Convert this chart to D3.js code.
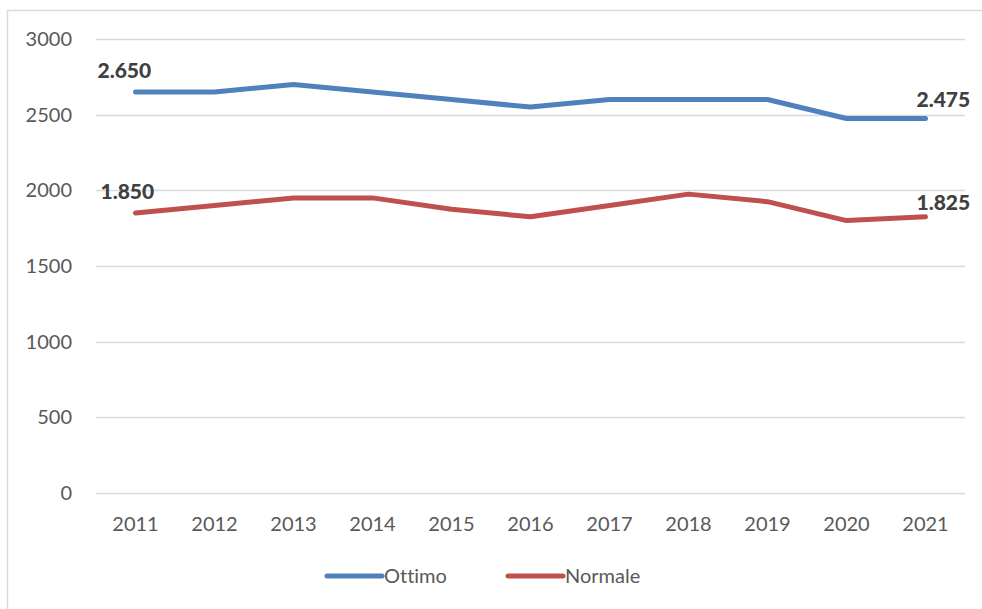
<!DOCTYPE html>
<html>
<head>
<meta charset="utf-8">
<script src="https://cdn.jsdelivr.net/npm/d3@7"></script>
<style>
  body { margin: 0; background: #fff; }
  text { font-family: Lato, "Open Sans", sans-serif; font-variant-ligatures: none; }
</style>
</head>
<body>
<div id="chart"></div>
<script>
var years = ["2011","2012","2013","2014","2015","2016","2017","2018","2019","2020","2021"];
var ottimo = [2650, 2650, 2700, 2650, 2600, 2550, 2600, 2600, 2600, 2475, 2475];
var normale = [1850, 1900, 1950, 1950, 1875, 1825, 1900, 1975, 1925, 1800, 1825];
var yTicks = [0, 500, 1000, 1500, 2000, 2500, 3000];
var seriesNames = ["Ottimo", "Normale"];
var colors = ["#4f81bd", "#c0504d"];

var W = 982, H = 609;
var plotLeft = 96, plotRight = 965, plotTop = 39, plotBottom = 493;

var svg = d3.select("#chart").append("svg").attr("width", W).attr("height", H);

// chart frame
svg.append("rect")
  .attr("x", 7.5).attr("y", 10.5).attr("width", W).attr("height", H)
  .attr("fill", "none").attr("stroke", "#d9d9d9").attr("stroke-width", 1.5);

var x = d3.scaleBand().domain(years).range([plotLeft, plotRight]);
var y = d3.scaleLinear().domain([0, 3000]).range([plotBottom, plotTop]);

// gridlines
svg.append("g").selectAll("line").data(yTicks).enter().append("line")
  .attr("x1", plotLeft).attr("x2", plotRight)
  .attr("y1", d => Math.round(y(d)) + 0.5).attr("y2", d => Math.round(y(d)) + 0.5)
  .attr("stroke", "#d9d9d9").attr("stroke-width", 1.5);

// y labels
svg.append("g").selectAll("text").data(yTicks).enter().append("text")
  .attr("x", 72).attr("y", d => y(d)).attr("dy", "0.35em")
  .attr("text-anchor", "end").attr("font-size", 20).attr("fill", "#595959")
  .text(d => d);

// x labels
svg.append("g").selectAll("text").data(years).enter().append("text")
  .attr("x", d => x(d) + x.bandwidth() / 2).attr("y", 524).attr("dy", "0.35em")
  .attr("text-anchor", "middle").attr("font-size", 20).attr("fill", "#595959")
  .text(d => d);

var line = d3.line()
  .x((d, i) => x(years[i]) + x.bandwidth() / 2)
  .y(d => y(d));

[ottimo, normale].forEach(function (vals, k) {
  svg.append("path").datum(vals)
    .attr("d", line)
    .attr("fill", "none")
    .attr("stroke", colors[k])
    .attr("stroke-width", 5)
    .attr("stroke-linejoin", "round")
    .attr("stroke-linecap", "round");
});

// data labels (first and last points)
var fmt = d => d3.format(",")(d).replace(",", ".");
var labels = [
  { v: ottimo[0], i: 0, dx: -38, dy: -21 },
  { v: normale[0], i: 0, dx: -35, dy: -21 },
  { v: ottimo[10], i: 10, dx: -9, dy: -19 },
  { v: normale[10], i: 10, dx: -9, dy: -14 }
];
svg.append("g").selectAll("text").data(labels).enter().append("text")
  .attr("x", d => x(years[d.i]) + x.bandwidth() / 2 + d.dx)
  .attr("y", d => y(d.v) + d.dy)
  .attr("dy", "0.35em")
  .attr("font-size", 21).attr("font-weight", 900).attr("fill", "#404040")
  .text(d => fmt(d.v));

// legend
var legend = svg.append("g");
var legX = [327, 508];
seriesNames.forEach(function (name, k) {
  legend.append("line")
    .attr("x1", legX[k]).attr("x2", legX[k] + 55)
    .attr("y1", 576).attr("y2", 576)
    .attr("stroke", colors[k]).attr("stroke-width", 5).attr("stroke-linecap", "round");
  legend.append("text")
    .attr("x", legX[k] + 57).attr("y", 576).attr("dy", "0.35em")
    .attr("font-size", 20).attr("fill", "#595959")
    .text(name);
});
</script>
</body>
</html>
